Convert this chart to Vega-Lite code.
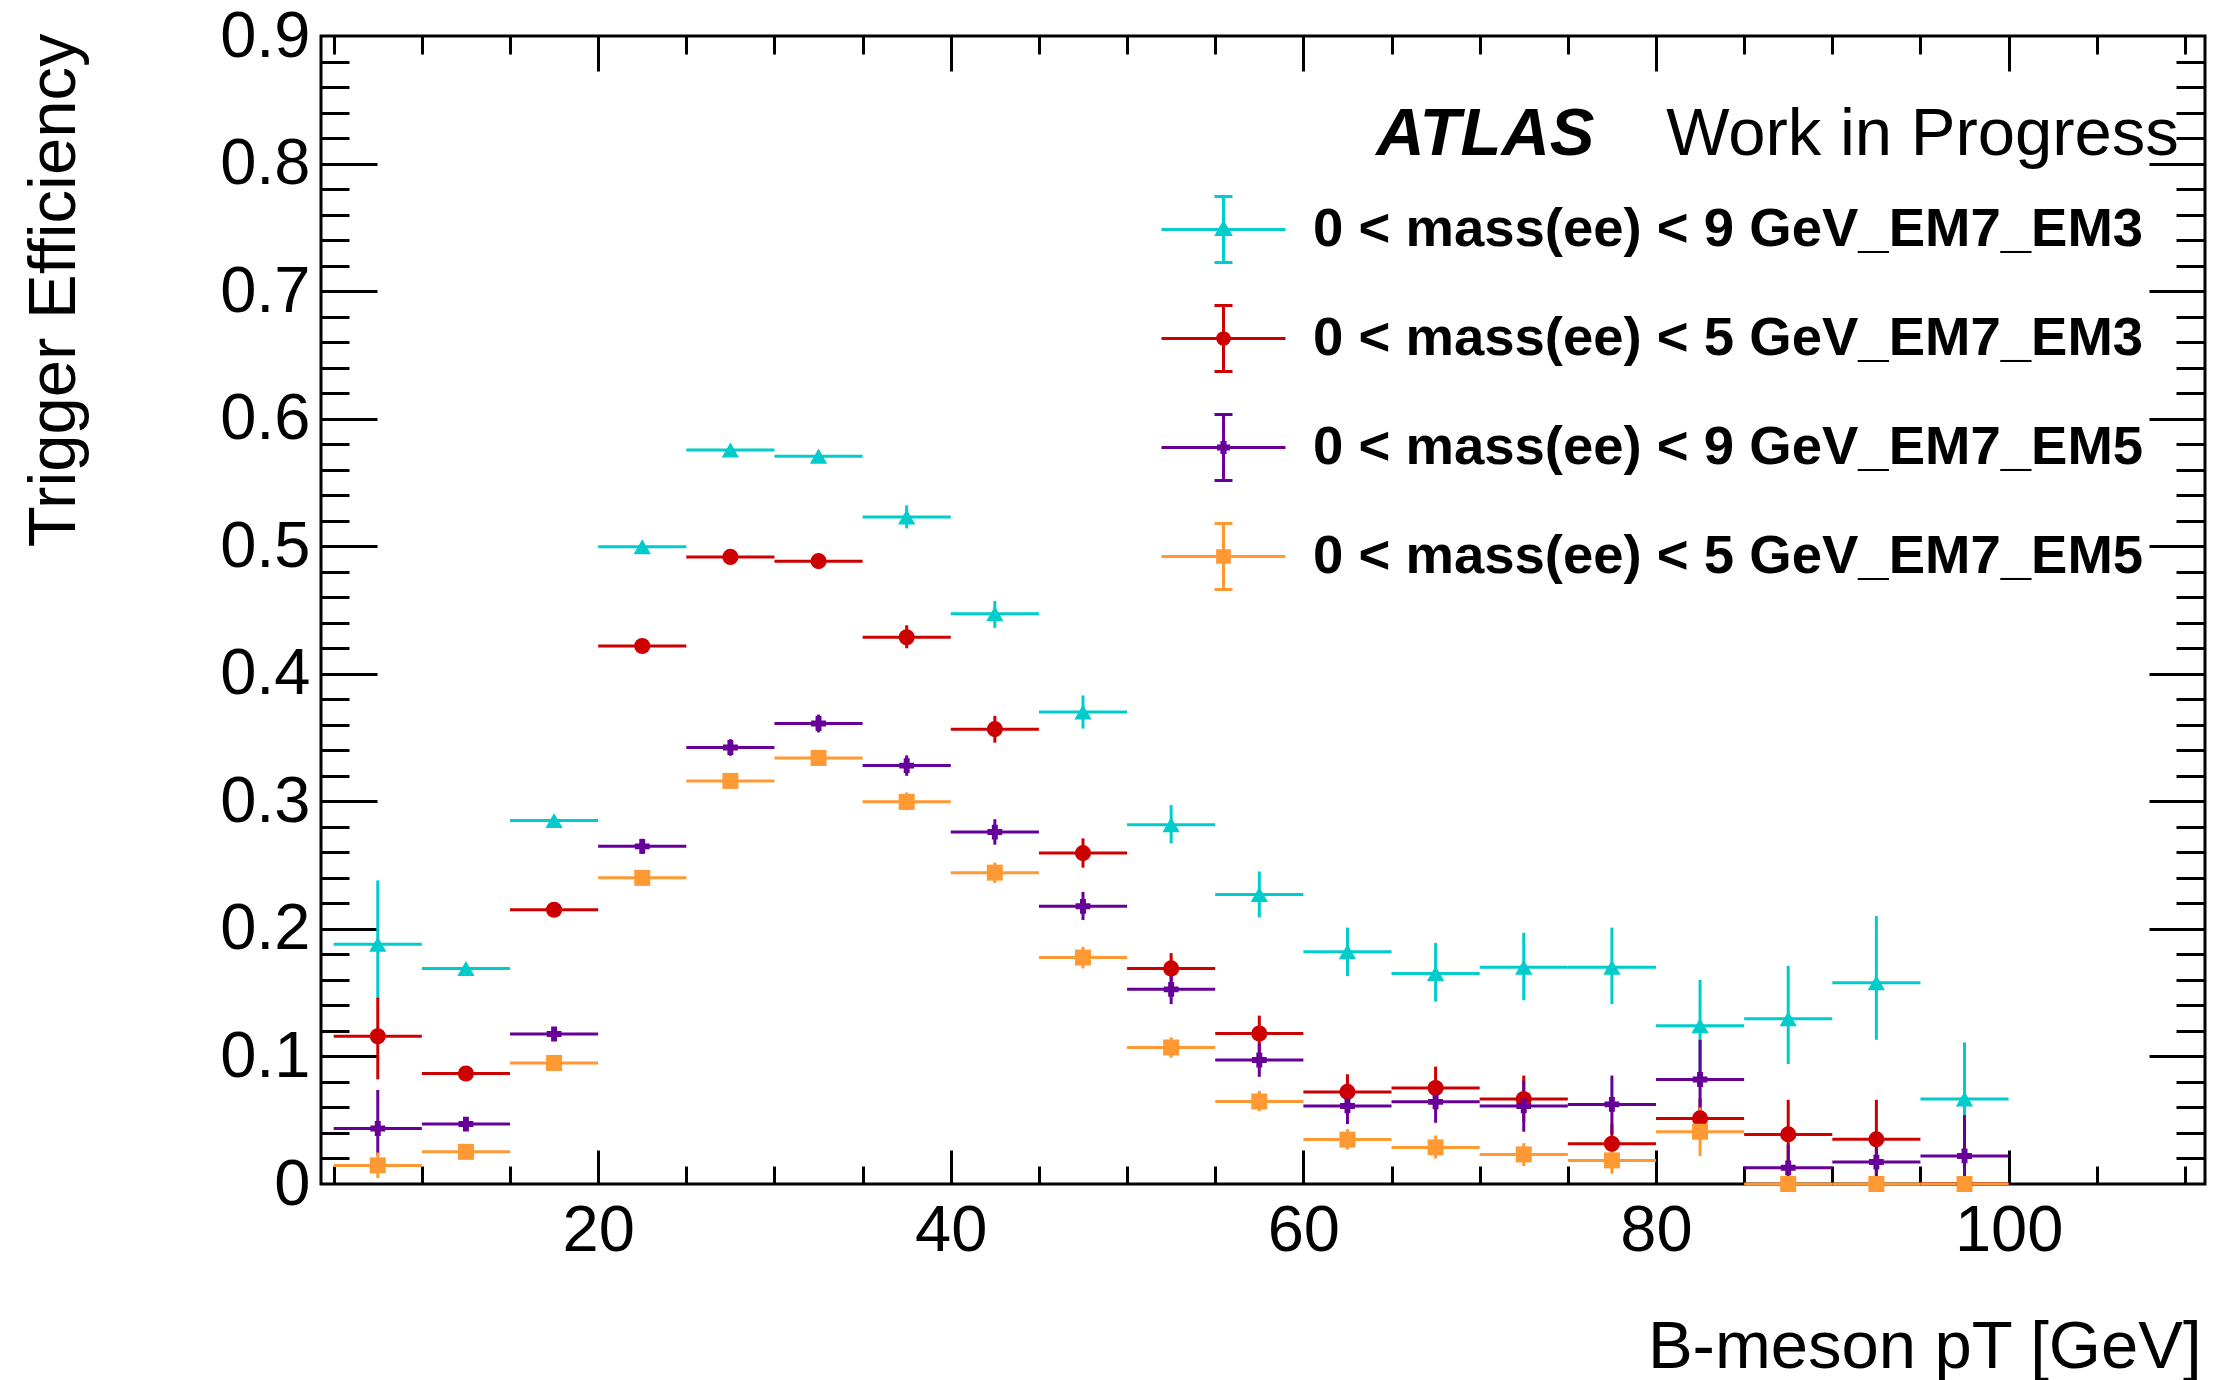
{
  "$schema": "https://vega.github.io/schema/vega-lite/v6.json",
  "width": 1884,
  "height": 1148,
  "autosize": {"type": "none"},
  "padding": {"left": 321, "top": 36, "right": 19, "bottom": 196},
  "background": "white",
  "data": {"values": [
    {"series": "0 < mass(ee) < 9 GeV_EM7_EM3", "pt": 7.5, "pt_lo": 5, "pt_hi": 10, "eff": 0.188, "eff_lo": 0.145, "eff_hi": 0.238},
    {"series": "0 < mass(ee) < 9 GeV_EM7_EM3", "pt": 12.5, "pt_lo": 10, "pt_hi": 15, "eff": 0.169, "eff_lo": 0.166, "eff_hi": 0.172},
    {"series": "0 < mass(ee) < 9 GeV_EM7_EM3", "pt": 17.5, "pt_lo": 15, "pt_hi": 20, "eff": 0.285, "eff_lo": 0.282, "eff_hi": 0.288},
    {"series": "0 < mass(ee) < 9 GeV_EM7_EM3", "pt": 22.5, "pt_lo": 20, "pt_hi": 25, "eff": 0.4995, "eff_lo": 0.496, "eff_hi": 0.503},
    {"series": "0 < mass(ee) < 9 GeV_EM7_EM3", "pt": 27.5, "pt_lo": 25, "pt_hi": 30, "eff": 0.5754, "eff_lo": 0.572, "eff_hi": 0.579},
    {"series": "0 < mass(ee) < 9 GeV_EM7_EM3", "pt": 32.5, "pt_lo": 30, "pt_hi": 35, "eff": 0.5705, "eff_lo": 0.566, "eff_hi": 0.575},
    {"series": "0 < mass(ee) < 9 GeV_EM7_EM3", "pt": 37.5, "pt_lo": 35, "pt_hi": 40, "eff": 0.523, "eff_lo": 0.514, "eff_hi": 0.532},
    {"series": "0 < mass(ee) < 9 GeV_EM7_EM3", "pt": 42.5, "pt_lo": 40, "pt_hi": 45, "eff": 0.447, "eff_lo": 0.436, "eff_hi": 0.457},
    {"series": "0 < mass(ee) < 9 GeV_EM7_EM3", "pt": 47.5, "pt_lo": 45, "pt_hi": 50, "eff": 0.370, "eff_lo": 0.357, "eff_hi": 0.383},
    {"series": "0 < mass(ee) < 9 GeV_EM7_EM3", "pt": 52.5, "pt_lo": 50, "pt_hi": 55, "eff": 0.2816, "eff_lo": 0.267, "eff_hi": 0.297},
    {"series": "0 < mass(ee) < 9 GeV_EM7_EM3", "pt": 57.5, "pt_lo": 55, "pt_hi": 60, "eff": 0.227, "eff_lo": 0.209, "eff_hi": 0.245},
    {"series": "0 < mass(ee) < 9 GeV_EM7_EM3", "pt": 62.5, "pt_lo": 60, "pt_hi": 65, "eff": 0.182, "eff_lo": 0.163, "eff_hi": 0.201},
    {"series": "0 < mass(ee) < 9 GeV_EM7_EM3", "pt": 67.5, "pt_lo": 65, "pt_hi": 70, "eff": 0.165, "eff_lo": 0.143, "eff_hi": 0.189},
    {"series": "0 < mass(ee) < 9 GeV_EM7_EM3", "pt": 72.5, "pt_lo": 70, "pt_hi": 75, "eff": 0.170, "eff_lo": 0.144, "eff_hi": 0.197},
    {"series": "0 < mass(ee) < 9 GeV_EM7_EM3", "pt": 77.5, "pt_lo": 75, "pt_hi": 80, "eff": 0.170, "eff_lo": 0.141, "eff_hi": 0.201},
    {"series": "0 < mass(ee) < 9 GeV_EM7_EM3", "pt": 82.5, "pt_lo": 80, "pt_hi": 85, "eff": 0.124, "eff_lo": 0.087, "eff_hi": 0.160},
    {"series": "0 < mass(ee) < 9 GeV_EM7_EM3", "pt": 87.5, "pt_lo": 85, "pt_hi": 90, "eff": 0.1295, "eff_lo": 0.094, "eff_hi": 0.171},
    {"series": "0 < mass(ee) < 9 GeV_EM7_EM3", "pt": 92.5, "pt_lo": 90, "pt_hi": 95, "eff": 0.1577, "eff_lo": 0.113, "eff_hi": 0.210},
    {"series": "0 < mass(ee) < 9 GeV_EM7_EM3", "pt": 97.5, "pt_lo": 95, "pt_hi": 100, "eff": 0.0667, "eff_lo": 0.022, "eff_hi": 0.111},

    {"series": "0 < mass(ee) < 5 GeV_EM7_EM3", "pt": 7.5, "pt_lo": 5, "pt_hi": 10, "eff": 0.1158, "eff_lo": 0.082, "eff_hi": 0.146},
    {"series": "0 < mass(ee) < 5 GeV_EM7_EM3", "pt": 12.5, "pt_lo": 10, "pt_hi": 15, "eff": 0.0866, "eff_lo": 0.084, "eff_hi": 0.090},
    {"series": "0 < mass(ee) < 5 GeV_EM7_EM3", "pt": 17.5, "pt_lo": 15, "pt_hi": 20, "eff": 0.215, "eff_lo": 0.211, "eff_hi": 0.219},
    {"series": "0 < mass(ee) < 5 GeV_EM7_EM3", "pt": 22.5, "pt_lo": 20, "pt_hi": 25, "eff": 0.4218, "eff_lo": 0.417, "eff_hi": 0.427},
    {"series": "0 < mass(ee) < 5 GeV_EM7_EM3", "pt": 27.5, "pt_lo": 25, "pt_hi": 30, "eff": 0.4916, "eff_lo": 0.487, "eff_hi": 0.497},
    {"series": "0 < mass(ee) < 5 GeV_EM7_EM3", "pt": 32.5, "pt_lo": 30, "pt_hi": 35, "eff": 0.4883, "eff_lo": 0.483, "eff_hi": 0.494},
    {"series": "0 < mass(ee) < 5 GeV_EM7_EM3", "pt": 37.5, "pt_lo": 35, "pt_hi": 40, "eff": 0.4286, "eff_lo": 0.420, "eff_hi": 0.438},
    {"series": "0 < mass(ee) < 5 GeV_EM7_EM3", "pt": 42.5, "pt_lo": 40, "pt_hi": 45, "eff": 0.3566, "eff_lo": 0.346, "eff_hi": 0.367},
    {"series": "0 < mass(ee) < 5 GeV_EM7_EM3", "pt": 47.5, "pt_lo": 45, "pt_hi": 50, "eff": 0.2594, "eff_lo": 0.248, "eff_hi": 0.271},
    {"series": "0 < mass(ee) < 5 GeV_EM7_EM3", "pt": 52.5, "pt_lo": 50, "pt_hi": 55, "eff": 0.169, "eff_lo": 0.157, "eff_hi": 0.181},
    {"series": "0 < mass(ee) < 5 GeV_EM7_EM3", "pt": 57.5, "pt_lo": 55, "pt_hi": 60, "eff": 0.118, "eff_lo": 0.104, "eff_hi": 0.132},
    {"series": "0 < mass(ee) < 5 GeV_EM7_EM3", "pt": 62.5, "pt_lo": 60, "pt_hi": 65, "eff": 0.0722, "eff_lo": 0.059, "eff_hi": 0.086},
    {"series": "0 < mass(ee) < 5 GeV_EM7_EM3", "pt": 67.5, "pt_lo": 65, "pt_hi": 70, "eff": 0.0753, "eff_lo": 0.058, "eff_hi": 0.092},
    {"series": "0 < mass(ee) < 5 GeV_EM7_EM3", "pt": 72.5, "pt_lo": 70, "pt_hi": 75, "eff": 0.0666, "eff_lo": 0.049, "eff_hi": 0.085},
    {"series": "0 < mass(ee) < 5 GeV_EM7_EM3", "pt": 77.5, "pt_lo": 75, "pt_hi": 80, "eff": 0.0316, "eff_lo": 0.016, "eff_hi": 0.047},
    {"series": "0 < mass(ee) < 5 GeV_EM7_EM3", "pt": 82.5, "pt_lo": 80, "pt_hi": 85, "eff": 0.0514, "eff_lo": 0.036, "eff_hi": 0.067},
    {"series": "0 < mass(ee) < 5 GeV_EM7_EM3", "pt": 87.5, "pt_lo": 85, "pt_hi": 90, "eff": 0.0389, "eff_lo": 0.012, "eff_hi": 0.066},
    {"series": "0 < mass(ee) < 5 GeV_EM7_EM3", "pt": 92.5, "pt_lo": 90, "pt_hi": 95, "eff": 0.035, "eff_lo": 0.005, "eff_hi": 0.066},
    {"series": "0 < mass(ee) < 5 GeV_EM7_EM3", "pt": 97.5, "pt_lo": 95, "pt_hi": 100, "eff": 0, "eff_lo": 0, "eff_hi": 0},

    {"series": "0 < mass(ee) < 9 GeV_EM7_EM5", "pt": 7.5, "pt_lo": 5, "pt_hi": 10, "eff": 0.0435, "eff_lo": 0.0227, "eff_hi": 0.0737},
    {"series": "0 < mass(ee) < 9 GeV_EM7_EM5", "pt": 12.5, "pt_lo": 10, "pt_hi": 15, "eff": 0.047, "eff_lo": 0.043, "eff_hi": 0.051},
    {"series": "0 < mass(ee) < 9 GeV_EM7_EM5", "pt": 17.5, "pt_lo": 15, "pt_hi": 20, "eff": 0.1176, "eff_lo": 0.1126, "eff_hi": 0.1226},
    {"series": "0 < mass(ee) < 9 GeV_EM7_EM5", "pt": 22.5, "pt_lo": 20, "pt_hi": 25, "eff": 0.2647, "eff_lo": 0.2587, "eff_hi": 0.2707},
    {"series": "0 < mass(ee) < 9 GeV_EM7_EM5", "pt": 27.5, "pt_lo": 25, "pt_hi": 30, "eff": 0.3422, "eff_lo": 0.3357, "eff_hi": 0.3487},
    {"series": "0 < mass(ee) < 9 GeV_EM7_EM5", "pt": 32.5, "pt_lo": 30, "pt_hi": 35, "eff": 0.361, "eff_lo": 0.354, "eff_hi": 0.368},
    {"series": "0 < mass(ee) < 9 GeV_EM7_EM5", "pt": 37.5, "pt_lo": 35, "pt_hi": 40, "eff": 0.328, "eff_lo": 0.320, "eff_hi": 0.336},
    {"series": "0 < mass(ee) < 9 GeV_EM7_EM5", "pt": 42.5, "pt_lo": 40, "pt_hi": 45, "eff": 0.2759, "eff_lo": 0.266, "eff_hi": 0.286},
    {"series": "0 < mass(ee) < 9 GeV_EM7_EM5", "pt": 47.5, "pt_lo": 45, "pt_hi": 50, "eff": 0.2177, "eff_lo": 0.207, "eff_hi": 0.229},
    {"series": "0 < mass(ee) < 9 GeV_EM7_EM5", "pt": 52.5, "pt_lo": 50, "pt_hi": 55, "eff": 0.1526, "eff_lo": 0.141, "eff_hi": 0.165},
    {"series": "0 < mass(ee) < 9 GeV_EM7_EM5", "pt": 57.5, "pt_lo": 55, "pt_hi": 60, "eff": 0.0972, "eff_lo": 0.084, "eff_hi": 0.110},
    {"series": "0 < mass(ee) < 9 GeV_EM7_EM5", "pt": 62.5, "pt_lo": 60, "pt_hi": 65, "eff": 0.0612, "eff_lo": 0.047, "eff_hi": 0.075},
    {"series": "0 < mass(ee) < 9 GeV_EM7_EM5", "pt": 67.5, "pt_lo": 65, "pt_hi": 70, "eff": 0.0644, "eff_lo": 0.048, "eff_hi": 0.080},
    {"series": "0 < mass(ee) < 9 GeV_EM7_EM5", "pt": 72.5, "pt_lo": 70, "pt_hi": 75, "eff": 0.0612, "eff_lo": 0.041, "eff_hi": 0.081},
    {"series": "0 < mass(ee) < 9 GeV_EM7_EM5", "pt": 77.5, "pt_lo": 75, "pt_hi": 80, "eff": 0.0624, "eff_lo": 0.039, "eff_hi": 0.085},
    {"series": "0 < mass(ee) < 9 GeV_EM7_EM5", "pt": 82.5, "pt_lo": 80, "pt_hi": 85, "eff": 0.0819, "eff_lo": 0.051, "eff_hi": 0.113},
    {"series": "0 < mass(ee) < 9 GeV_EM7_EM5", "pt": 87.5, "pt_lo": 85, "pt_hi": 90, "eff": 0.0127, "eff_lo": 0, "eff_hi": 0.031},
    {"series": "0 < mass(ee) < 9 GeV_EM7_EM5", "pt": 92.5, "pt_lo": 90, "pt_hi": 95, "eff": 0.0172, "eff_lo": 0, "eff_hi": 0.037},
    {"series": "0 < mass(ee) < 9 GeV_EM7_EM5", "pt": 97.5, "pt_lo": 95, "pt_hi": 100, "eff": 0.022, "eff_lo": 0, "eff_hi": 0.054},

    {"series": "0 < mass(ee) < 5 GeV_EM7_EM5", "pt": 7.5, "pt_lo": 5, "pt_hi": 10, "eff": 0.0146, "eff_lo": 0.0047, "eff_hi": 0.0247},
    {"series": "0 < mass(ee) < 5 GeV_EM7_EM5", "pt": 12.5, "pt_lo": 10, "pt_hi": 15, "eff": 0.0252, "eff_lo": 0.022, "eff_hi": 0.028},
    {"series": "0 < mass(ee) < 5 GeV_EM7_EM5", "pt": 17.5, "pt_lo": 15, "pt_hi": 20, "eff": 0.0949, "eff_lo": 0.091, "eff_hi": 0.099},
    {"series": "0 < mass(ee) < 5 GeV_EM7_EM5", "pt": 22.5, "pt_lo": 20, "pt_hi": 25, "eff": 0.240, "eff_lo": 0.236, "eff_hi": 0.244},
    {"series": "0 < mass(ee) < 5 GeV_EM7_EM5", "pt": 27.5, "pt_lo": 25, "pt_hi": 30, "eff": 0.316, "eff_lo": 0.311, "eff_hi": 0.321},
    {"series": "0 < mass(ee) < 5 GeV_EM7_EM5", "pt": 32.5, "pt_lo": 30, "pt_hi": 35, "eff": 0.334, "eff_lo": 0.329, "eff_hi": 0.339},
    {"series": "0 < mass(ee) < 5 GeV_EM7_EM5", "pt": 37.5, "pt_lo": 35, "pt_hi": 40, "eff": 0.2996, "eff_lo": 0.293, "eff_hi": 0.307},
    {"series": "0 < mass(ee) < 5 GeV_EM7_EM5", "pt": 42.5, "pt_lo": 40, "pt_hi": 45, "eff": 0.2441, "eff_lo": 0.236, "eff_hi": 0.252},
    {"series": "0 < mass(ee) < 5 GeV_EM7_EM5", "pt": 47.5, "pt_lo": 45, "pt_hi": 50, "eff": 0.1775, "eff_lo": 0.169, "eff_hi": 0.186},
    {"series": "0 < mass(ee) < 5 GeV_EM7_EM5", "pt": 52.5, "pt_lo": 50, "pt_hi": 55, "eff": 0.107, "eff_lo": 0.099, "eff_hi": 0.115},
    {"series": "0 < mass(ee) < 5 GeV_EM7_EM5", "pt": 57.5, "pt_lo": 55, "pt_hi": 60, "eff": 0.0647, "eff_lo": 0.057, "eff_hi": 0.073},
    {"series": "0 < mass(ee) < 5 GeV_EM7_EM5", "pt": 62.5, "pt_lo": 60, "pt_hi": 65, "eff": 0.0348, "eff_lo": 0.027, "eff_hi": 0.043},
    {"series": "0 < mass(ee) < 5 GeV_EM7_EM5", "pt": 67.5, "pt_lo": 65, "pt_hi": 70, "eff": 0.0287, "eff_lo": 0.020, "eff_hi": 0.038},
    {"series": "0 < mass(ee) < 5 GeV_EM7_EM5", "pt": 72.5, "pt_lo": 70, "pt_hi": 75, "eff": 0.0232, "eff_lo": 0.014, "eff_hi": 0.032},
    {"series": "0 < mass(ee) < 5 GeV_EM7_EM5", "pt": 77.5, "pt_lo": 75, "pt_hi": 80, "eff": 0.0185, "eff_lo": 0.008, "eff_hi": 0.030},
    {"series": "0 < mass(ee) < 5 GeV_EM7_EM5", "pt": 82.5, "pt_lo": 80, "pt_hi": 85, "eff": 0.041, "eff_lo": 0.022, "eff_hi": 0.060},
    {"series": "0 < mass(ee) < 5 GeV_EM7_EM5", "pt": 87.5, "pt_lo": 85, "pt_hi": 90, "eff": 0, "eff_lo": 0, "eff_hi": 0},
    {"series": "0 < mass(ee) < 5 GeV_EM7_EM5", "pt": 92.5, "pt_lo": 90, "pt_hi": 95, "eff": 0, "eff_lo": 0, "eff_hi": 0},
    {"series": "0 < mass(ee) < 5 GeV_EM7_EM5", "pt": 97.5, "pt_lo": 95, "pt_hi": 100, "eff": 0, "eff_lo": 0, "eff_hi": 0}
  ]},
  "resolve": {"axis": {"x": "independent", "y": "independent"}},
  "layer": [
    {
      "mark": {"type": "rule", "strokeWidth": 3},
      "encoding": {
        "x": {"field": "pt_lo", "type": "quantitative", "scale": {"domain": [4.28, 111.14], "nice": false, "zero": false},
          "axis": {"orient": "bottom", "values": [20, 40, 60, 80, 100], "ticks": false, "tickSize": 0, "domain": false, "grid": false,
            "labelPadding": 66, "labelBaseline": "alphabetic", "labelFontSize": 65, "labelFont": "Liberation Sans", "labelColor": "black",
            "labelFlush": false, "labelOverlap": false, "format": "d",
            "title": "B-meson pT [GeV]", "titleFont": "Liberation Sans", "titleFontSize": 67, "titleFontWeight": "normal", "titleColor": "black",
            "titleAnchor": "end", "titleAlign": "right", "titleBaseline": "alphabetic", "titleX": 1880, "titleY": 183}},
        "x2": {"field": "pt_hi"},
        "y": {"field": "eff", "type": "quantitative", "scale": {"domain": [0, 0.9], "nice": false, "zero": false},
          "axis": {"orient": "left", "values": [0, 0.1, 0.2, 0.3, 0.4, 0.5, 0.6, 0.7, 0.8, 0.9], "ticks": false, "tickSize": 0, "domain": false, "grid": false,
            "labelPadding": 11, "labelFontSize": 65, "labelFont": "Liberation Sans", "labelColor": "black", "labelFlush": false, "labelOverlap": false,
            "labelExpr": "datum.value == 0 ? '0' : format(datum.value, '.1f')",
            "title": "Trigger Efficiency", "titleFont": "Liberation Sans", "titleFontSize": 67, "titleFontWeight": "normal", "titleColor": "black",
            "titleAngle": 270, "titleAlign": "right", "titleBaseline": "alphabetic", "titleX": -247, "titleY": -3}},
        "color": {"field": "series", "type": "nominal",
          "scale": {"domain": ["0 < mass(ee) < 5 GeV_EM7_EM5", "0 < mass(ee) < 9 GeV_EM7_EM5", "0 < mass(ee) < 5 GeV_EM7_EM3", "0 < mass(ee) < 9 GeV_EM7_EM3"],
                    "range": ["#ff9933", "#660099", "#cc0000", "#00cccc"]}, "legend": null}
      }
    },
    {
      "mark": {"type": "rule", "strokeWidth": 3},
      "encoding": {
        "x": {"field": "pt", "type": "quantitative", "scale": {"domain": [4.28, 111.14], "nice": false, "zero": false},
          "axis": {"orient": "bottom", "values": [20, 40, 60, 80, 100], "labels": false, "ticks": true, "tickSize": -34, "tickWidth": 3, "tickColor": "black", "domain": false, "grid": false, "title": null}},
        "y": {"field": "eff_lo", "type": "quantitative", "scale": {"domain": [0, 0.9], "nice": false, "zero": false},
          "axis": {"orient": "left", "values": [0.1, 0.2, 0.3, 0.4, 0.5, 0.6, 0.7, 0.8], "labels": false, "ticks": true, "tickSize": -56, "tickWidth": 3, "tickColor": "black", "domain": false, "grid": false, "title": null}},
        "y2": {"field": "eff_hi"},
        "color": {"field": "series", "type": "nominal",
          "scale": {"domain": ["0 < mass(ee) < 5 GeV_EM7_EM5", "0 < mass(ee) < 9 GeV_EM7_EM5", "0 < mass(ee) < 5 GeV_EM7_EM3", "0 < mass(ee) < 9 GeV_EM7_EM3"],
                    "range": ["#ff9933", "#660099", "#cc0000", "#00cccc"]}, "legend": null}
      }
    },
    {
      "transform": [{"filter": "datum.series == '0 < mass(ee) < 9 GeV_EM7_EM3'"}],
      "mark": {"type": "point", "shape": "triangle-up", "filled": true, "color": "#00cccc", "opacity": 1, "size": 300},
      "encoding": {
        "x": {"field": "pt", "type": "quantitative", "scale": {"domain": [4.28, 111.14], "nice": false, "zero": false},
          "axis": {"orient": "top", "values": [20, 40, 60, 80, 100], "labels": false, "ticks": true, "tickSize": -35, "tickWidth": 3, "tickColor": "black", "domain": false, "grid": false, "title": null}},
        "y": {"field": "eff", "type": "quantitative", "scale": {"domain": [0, 0.9], "nice": false, "zero": false},
          "axis": {"orient": "right", "values": [0.1, 0.2, 0.3, 0.4, 0.5, 0.6, 0.7, 0.8], "labels": false, "ticks": true, "tickSize": -56, "tickWidth": 3, "tickColor": "black", "domain": false, "grid": false, "title": null}}
      }
    },
    {
      "transform": [{"filter": "datum.series == '0 < mass(ee) < 5 GeV_EM7_EM3'"}],
      "mark": {"type": "point", "shape": "circle", "filled": true, "color": "#cc0000", "opacity": 1, "size": 260},
      "encoding": {
        "x": {"field": "pt", "type": "quantitative", "scale": {"domain": [4.28, 111.14], "nice": false, "zero": false},
          "axis": {"orient": "bottom", "values": [5, 10, 15, 25, 30, 35, 45, 50, 55, 65, 70, 75, 85, 90, 95, 105, 110], "labels": false, "ticks": true, "tickSize": -18, "tickWidth": 3, "tickColor": "black", "domain": false, "grid": false, "title": null}},
        "y": {"field": "eff", "type": "quantitative", "scale": {"domain": [0, 0.9], "nice": false, "zero": false},
          "axis": {"orient": "left", "values": [0.02, 0.04, 0.06, 0.08, 0.12, 0.14, 0.16, 0.18, 0.22, 0.24, 0.26, 0.28, 0.32, 0.34, 0.36, 0.38, 0.42, 0.44, 0.46, 0.48, 0.52, 0.54, 0.56, 0.58, 0.62, 0.64, 0.66, 0.68, 0.72, 0.74, 0.76, 0.78, 0.82, 0.84, 0.86, 0.88], "labels": false, "ticks": true, "tickSize": -28, "tickWidth": 3, "tickColor": "black", "domain": false, "grid": false, "title": null}}
      }
    },
    {
      "transform": [{"filter": "datum.series == '0 < mass(ee) < 9 GeV_EM7_EM5'"}],
      "mark": {"type": "point", "shape": "cross", "filled": true, "color": "#660099", "opacity": 1, "size": 220},
      "encoding": {
        "x": {"field": "pt", "type": "quantitative", "scale": {"domain": [4.28, 111.14], "nice": false, "zero": false},
          "axis": {"orient": "top", "values": [5, 10, 15, 25, 30, 35, 45, 50, 55, 65, 70, 75, 85, 90, 95, 105, 110], "labels": false, "ticks": true, "tickSize": -18, "tickWidth": 3, "tickColor": "black", "domain": false, "grid": false, "title": null}},
        "y": {"field": "eff", "type": "quantitative", "scale": {"domain": [0, 0.9], "nice": false, "zero": false},
          "axis": {"orient": "right", "values": [0.02, 0.04, 0.06, 0.08, 0.12, 0.14, 0.16, 0.18, 0.22, 0.24, 0.26, 0.28, 0.32, 0.34, 0.36, 0.38, 0.42, 0.44, 0.46, 0.48, 0.52, 0.54, 0.56, 0.58, 0.62, 0.64, 0.66, 0.68, 0.72, 0.74, 0.76, 0.78, 0.82, 0.84, 0.86, 0.88], "labels": false, "ticks": true, "tickSize": -29, "tickWidth": 3, "tickColor": "black", "domain": false, "grid": false, "title": null}}
      }
    },
    {
      "transform": [{"filter": "datum.series == '0 < mass(ee) < 5 GeV_EM7_EM5'"}],
      "mark": {"type": "point", "shape": "square", "filled": true, "color": "#ff9933", "opacity": 1, "size": 256},
      "encoding": {
        "x": {"field": "pt", "type": "quantitative", "scale": {"domain": [4.28, 111.14], "nice": false, "zero": false}, "axis": null},
        "y": {"field": "eff", "type": "quantitative", "scale": {"domain": [0, 0.9], "nice": false, "zero": false}, "axis": null}
      }
    },
    {
      "mark": {"type": "point", "filled": true, "opacity": 0, "size": 8100, "strokeWidth": 3},
      "encoding": {
        "fill": {"field": "series", "type": "nominal",
          "scale": {"domain": ["0 < mass(ee) < 9 GeV_EM7_EM3", "0 < mass(ee) < 5 GeV_EM7_EM3", "0 < mass(ee) < 9 GeV_EM7_EM5", "0 < mass(ee) < 5 GeV_EM7_EM5"],
                    "range": ["#00cccc", "#cc0000", "#660099", "#ff9933"]},
          "legend": {"title": " ", "titleFontSize": 20, "titlePadding": 66, "orient": "top-right", "offset": 61, "symbolSize": 8100, "symbolStrokeWidth": 3, "symbolOpacity": 1,
            "labelFont": "Liberation Sans", "labelFontSize": 54.5, "labelFontWeight": "bold", "labelColor": "black", "labelLimit": 2000, "labelOffset": 43,
            "rowPadding": 23}},
        "stroke": {"field": "series", "type": "nominal",
          "scale": {"domain": ["0 < mass(ee) < 9 GeV_EM7_EM3", "0 < mass(ee) < 5 GeV_EM7_EM3", "0 < mass(ee) < 9 GeV_EM7_EM5", "0 < mass(ee) < 5 GeV_EM7_EM5"],
                    "range": ["#00cccc", "#cc0000", "#660099", "#ff9933"]},
          "legend": {"title": " ", "titleFontSize": 20, "titlePadding": 66, "orient": "top-right", "offset": 61, "symbolSize": 8100, "symbolStrokeWidth": 3, "symbolOpacity": 1,
            "labelFont": "Liberation Sans", "labelFontSize": 54.5, "labelFontWeight": "bold", "labelColor": "black", "labelLimit": 2000, "labelOffset": 43,
            "rowPadding": 23}},
        "shape": {"field": "series", "type": "nominal",
          "scale": {"domain": ["0 < mass(ee) < 9 GeV_EM7_EM3", "0 < mass(ee) < 5 GeV_EM7_EM3", "0 < mass(ee) < 9 GeV_EM7_EM5", "0 < mass(ee) < 5 GeV_EM7_EM5"],
                    "range": [
                      "M-1.378,0L1.378,0M0,-0.733L0,0.733M-0.2,-0.733L0.2,-0.733M-0.2,0.733L0.2,0.733M0,-0.15L0.15,0.11L-0.15,0.11Z",
                      "M-1.378,0L1.378,0M0,-0.733L0,0.733M-0.2,-0.733L0.2,-0.733M-0.2,0.733L0.2,0.733M0.13,0A0.13,0.13,0,1,1,-0.13,0A0.13,0.13,0,1,1,0.13,0Z",
                      "M-1.378,0L1.378,0M0,-0.733L0,0.733M-0.2,-0.733L0.2,-0.733M-0.2,0.733L0.2,0.733M-0.11,-0.035L-0.035,-0.035L-0.035,-0.11L0.035,-0.11L0.035,-0.035L0.11,-0.035L0.11,0.035L0.035,0.035L0.035,0.11L-0.035,0.11L-0.035,0.035L-0.11,0.035Z",
                      "M-1.378,0L1.378,0M0,-0.733L0,0.733M-0.2,-0.733L0.2,-0.733M-0.2,0.733L0.2,0.733M-0.13,-0.13L0.13,-0.13L0.13,0.13L-0.13,0.13Z"
                    ]},
          "legend": {"title": " ", "titleFontSize": 20, "titlePadding": 66, "orient": "top-right", "offset": 61, "symbolSize": 8100, "symbolStrokeWidth": 3, "symbolOpacity": 1,
            "labelFont": "Liberation Sans", "labelFontSize": 54.5, "labelFontWeight": "bold", "labelColor": "black", "labelLimit": 2000, "labelOffset": 43,
            "rowPadding": 23}}
      }
    },
    {
      "data": {"values": [{"label": "ATLAS"}]},
      "mark": {"type": "text", "font": "Liberation Sans", "fontSize": 67, "fontWeight": "bold", "fontStyle": "italic", "align": "left", "baseline": "alphabetic", "color": "black"},
      "encoding": {
        "text": {"field": "label"},
        "x": {"datum": 64.13, "type": "quantitative", "scale": {"domain": [4.28, 111.14], "nice": false, "zero": false}, "axis": null},
        "y": {"datum": 0.8067, "type": "quantitative", "scale": {"domain": [0, 0.9], "nice": false, "zero": false}, "axis": null}
      }
    },
    {
      "data": {"values": [{"label": "Work in Progress"}]},
      "mark": {"type": "text", "font": "Liberation Sans", "fontSize": 67, "fontWeight": "normal", "align": "left", "baseline": "alphabetic", "color": "black"},
      "encoding": {
        "text": {"field": "label"},
        "x": {"datum": 80.58, "type": "quantitative", "scale": {"domain": [4.28, 111.14], "nice": false, "zero": false}, "axis": null},
        "y": {"datum": 0.8067, "type": "quantitative", "scale": {"domain": [0, 0.9], "nice": false, "zero": false}, "axis": null}
      }
    }
  ],
  "config": {
    "view": {"stroke": "black", "strokeWidth": 3},
    "font": "Liberation Sans",
    "axis": {"grid": false, "domain": false, "tickColor": "black", "tickWidth": 3}
  }
}
